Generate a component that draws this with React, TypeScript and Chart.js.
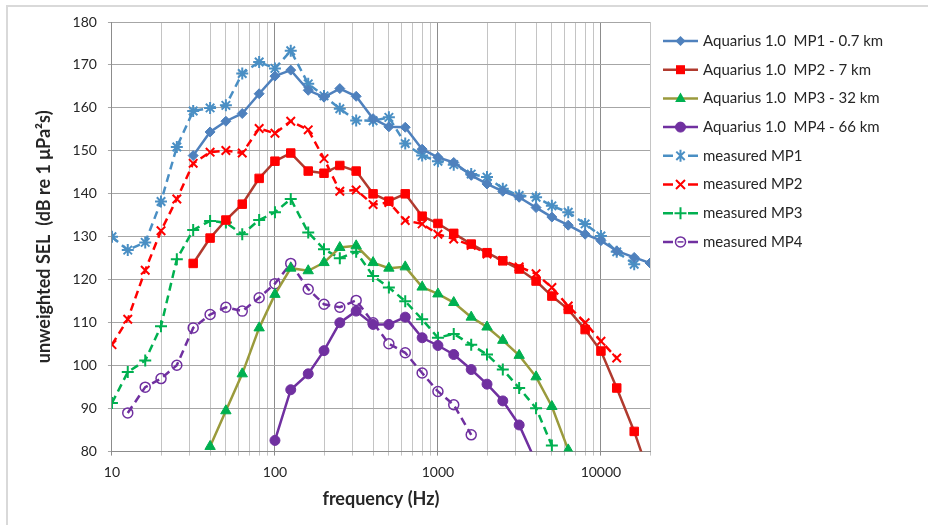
import React, { useEffect, useRef } from 'react';
import { Chart, registerables } from 'chart.js';
Chart.register(...registerables);

const freqs = [10, 12.5, 16, 20, 25, 31.5, 40, 50, 63, 80, 100, 125, 160, 200, 250, 315, 400, 500, 630, 800, 1000, 1250, 1600, 2000, 2500, 3150, 4000, 5000, 6300, 8000, 10000, 12500, 16000, 20000];

const aqMP1 = [null, null, null, null, null, 148.9, 154.4, 156.9, 158.7, 163.3, 167.4, 168.8, 164.1, 162.5, 164.5, 162.7, 157.5, 155.6, 155.5, 150.4, 148.5, 147.3, 144.3, 142.3, 140.6, 139.2, 136.8, 134.6, 132.7, 130.6, 129.1, 126.7, 125.2, 123.9];
const aqMP2 = [null, null, null, null, null, 123.8, 129.7, 133.9, 137.6, 143.6, 147.6, 149.5, 145.3, 144.8, 146.6, 145.3, 140, 138.3, 140, 134.8, 133.1, 130.8, 128.3, 126.3, 124.4, 122.5, 119.7, 116.2, 113.1, 108.4, 103.4, 94.8, 84.7, 74];
const aqMP3 = [null, null, null, null, null, null, 81.2, 89.5, 98.1, 108.8, 116.6, 122.7, 122.1, 124, 127.5, 127.9, 124, 122.7, 123, 118.3, 116.7, 114.7, 111.3, 109, 105.9, 102.4, 97.4, 90.5, 80.4, null, null, null, null, null];
const aqMP4 = [null, null, null, null, null, null, null, null, null, null, 82.6, 94.4, 98.1, 103.5, 110, 112.7, 109.6, 109.6, 111.3, 106.5, 104.7, 102.6, 99.1, 95.7, 91.8, 86.2, 77.5, null, null, null, null, null, null, null];
const msMP1 = [130, 126.9, 128.7, 138.2, 150.9, 159.3, 160, 160.6, 168, 170.7, 169.2, 173.3, 165.6, 162.8, 159.8, 157.1, 157, 157.8, 151.7, 148.9, 147.6, 146.8, 144.6, 143.9, 141.2, 139.6, 139.2, 137.2, 135.7, 133, 130.2, 126.5, 123.6, null];
const msMP2 = [104.9, 110.8, 122.2, 131.4, 138.8, 147.1, 149.7, 150.1, 149.5, 155.2, 154.1, 156.9, 154.9, 148.2, 140.6, 140.9, 137.5, 138, 133.8, 133, 130.6, 129.5, 128, 126, 124.5, 123, 121.4, 118.2, 113.9, 110, 105.7, 101.8, null, null];
const msMP3 = [91.3, 98.5, 101.2, 109.2, 124.8, 131.6, 133.7, 133.3, 130.6, 133.9, 135.7, 138.8, 131, 127.1, 125, 126.5, 120.9, 118.2, 115, 110.8, 106.5, 107.4, 104.9, 102.6, 99.1, 94.8, 90.1, 81.4, null, null, null, null, null, null];
const msMP4 = [null, 89, 95, 97, 100.1, 108.8, 111.9, 113.6, 112.7, 115.8, 119.1, 123.8, 117.8, 114.3, 113.6, 115.2, 110, 105.1, 103, 98.3, 94, 90.9, 83.9, null, null, null, null, null, null, null, null, null, null, null];

const seriesLabels = [
  'Aquarius 1.0  MP1 - 0.7 km',
  'Aquarius 1.0  MP2 - 7 km',
  'Aquarius 1.0  MP3 - 32 km',
  'Aquarius 1.0  MP4 - 66 km',
  'measured MP1',
  'measured MP2',
  'measured MP3',
  'measured MP4',
];
const xTickLabels = ['10', '100', '1000', '10000'];
const xGridValues = [10, 20, 30, 40, 50, 60, 70, 80, 90, 100, 200, 300, 400, 500, 600, 700, 800, 900, 1000, 2000, 3000, 4000, 5000, 6000, 7000, 8000, 9000, 10000, 20000];

const FONT = 'Lato, "Open Sans", sans-serif';

function toPoints(vals: (number | null)[]) {
  const out: { x: number; y: number }[] = [];
  vals.forEach((v, i) => {
    if (v !== null) out.push({ x: freqs[i], y: v });
  });
  return out;
}

type Mk = { style: string; fill: string; stroke: string; r: number; lw: number };

function drawMarker(ctx: CanvasRenderingContext2D, m: Mk, x: number, y: number) {
  const r = m.r;
  ctx.save();
  ctx.setLineDash([]);
  ctx.fillStyle = m.fill;
  ctx.strokeStyle = m.stroke;
  ctx.lineWidth = m.lw;
  ctx.beginPath();
  switch (m.style) {
    case 'rectRot':
      ctx.moveTo(x, y - r); ctx.lineTo(x + r, y); ctx.lineTo(x, y + r); ctx.lineTo(x - r, y); ctx.closePath();
      ctx.fill();
      break;
    case 'rect': {
      const s = r * 0.75;
      ctx.rect(x - s, y - s, 2 * s, 2 * s); ctx.fill();
      break;
    }
    case 'triangle':
      ctx.moveTo(x, y - r); ctx.lineTo(x + r * 0.9, y + r * 0.6); ctx.lineTo(x - r * 0.9, y + r * 0.6); ctx.closePath(); ctx.fill();
      break;
    case 'circle':
      ctx.arc(x, y, r, 0, Math.PI * 2);
      if (m.fill !== 'transparent') ctx.fill();
      ctx.stroke();
      if (m.fill === 'transparent') {
        ctx.beginPath(); ctx.moveTo(x - r * 0.6, y); ctx.lineTo(x + r * 0.6, y); ctx.stroke();
      }
      break;
    case 'star': {
      const d = r * 0.7;
      ctx.moveTo(x - d, y - d); ctx.lineTo(x + d, y + d);
      ctx.moveTo(x + d, y - d); ctx.lineTo(x - d, y + d);
      ctx.moveTo(x, y - r); ctx.lineTo(x, y + r);
      ctx.stroke();
      break;
    }
    case 'crossRot': {
      const d = r * 0.75;
      ctx.moveTo(x - d, y - d); ctx.lineTo(x + d, y + d);
      ctx.moveTo(x + d, y - d); ctx.lineTo(x - d, y + d);
      ctx.stroke();
      break;
    }
    case 'cross':
      ctx.moveTo(x - r, y); ctx.lineTo(x + r, y);
      ctx.moveTo(x, y - r); ctx.lineTo(x, y + r);
      ctx.stroke();
      break;
  }
  ctx.restore();
}

const legendPlugin = {
  id: 'sideLegend',
  afterDraw(chart: any) {
    const ctx: CanvasRenderingContext2D = chart.ctx;
    ctx.save();
    const x0 = 663, x1 = 698, top = 41, step = 28.7;
    chart.data.datasets.forEach((ds: any, i: number) => {
      const y = top + i * step;
      ctx.strokeStyle = ds.borderColor;
      ctx.lineWidth = 2.5;
      ctx.setLineDash([]);
      ctx.beginPath();
      if (ds.borderDash && ds.borderDash.length) {
        ctx.moveTo(x0, y); ctx.lineTo(x0 + 10, y);
        ctx.moveTo(x1 - 10, y); ctx.lineTo(x1, y);
      } else {
        ctx.moveTo(x0, y); ctx.lineTo(x1, y);
      }
      ctx.stroke();
      drawMarker(ctx, ds.mk, (x0 + x1) / 2, y);
      ctx.fillStyle = '#262626';
      ctx.font = '15px ' + FONT;
      ctx.textBaseline = 'middle';
      ctx.textAlign = 'left';
      ctx.fillText(seriesLabels[i], 703, y);
    });
    ctx.restore();
  },
};

function mkDataset(label: string, vals: (number | null)[], line: string, mk: Mk, dashed: boolean) {
  return {
    label,
    data: toPoints(vals),
    borderColor: line,
    backgroundColor: mk.fill,
    borderWidth: 2.5,
    borderDash: dashed ? [8, 5] : [],
    pointStyle: mk.style,
    pointRadius: mk.r,
    pointBackgroundColor: mk.fill,
    pointBorderColor: mk.stroke,
    pointBorderWidth: mk.lw,
    tension: 0,
    mk,
  } as any;
}

export default function App() {
  const ref = useRef<HTMLCanvasElement | null>(null);
  useEffect(() => {
    if (!ref.current) return;
    const blue = '#4F81BD';
    const datasets = [
      mkDataset(seriesLabels[0], aqMP1, blue, { style: 'rectRot', fill: blue, stroke: blue, r: 5, lw: 1 }, false),
      mkDataset(seriesLabels[1], aqMP2, '#B03A2E', { style: 'rect', fill: '#FF0000', stroke: '#FF0000', r: 6, lw: 1 }, false),
      mkDataset(seriesLabels[2], aqMP3, '#9A9A3C', { style: 'triangle', fill: '#00B050', stroke: '#00B050', r: 6, lw: 1 }, false),
      mkDataset(seriesLabels[3], aqMP4, '#7030A0', { style: 'circle', fill: '#7030A0', stroke: '#7030A0', r: 5, lw: 1 }, false),
      mkDataset(seriesLabels[4], msMP1, '#4A8FC4', { style: 'star', fill: '#4A8FC4', stroke: '#4A8FC4', r: 6, lw: 2 }, true),
      mkDataset(seriesLabels[5], msMP2, '#FF0000', { style: 'crossRot', fill: '#FF0000', stroke: '#FF0000', r: 6, lw: 2 }, true),
      mkDataset(seriesLabels[6], msMP3, '#00B050', { style: 'cross', fill: '#00B050', stroke: '#00B050', r: 6, lw: 2 }, true),
      mkDataset(seriesLabels[7], msMP4, '#7030A0', { style: 'circle', fill: 'transparent', stroke: '#7030A0', r: 5, lw: 1.5 }, true),
    ];
    const isMajor = (v: number) => xTickLabels.includes(String(v));
    const chart = new Chart(ref.current, {
      type: 'line',
      data: { datasets },
      plugins: [legendPlugin],
      options: {
        animation: false,
        responsive: false,
        maintainAspectRatio: false,
        layout: { padding: { left: 33, right: 278, top: 22, bottom: 15 } },
        plugins: { legend: { display: false }, tooltip: { enabled: false } },
        scales: {
          x: {
            type: 'logarithmic',
            min: 10,
            max: 20000,
            afterBuildTicks: (axis: any) => {
              axis.ticks = xGridValues.map((v) => ({ value: v, major: isMajor(v) }));
            },
            ticks: {
              autoSkip: false,
              maxRotation: 0,
              color: '#262626',
              font: { family: FONT, size: 14 },
              padding: 8,
              callback: (v: any) => (isMajor(Number(v)) ? String(v) : ''),
            },
            grid: {
              color: (c: any) => (c.tick && isMajor(c.tick.value) ? '#8c8c8c' : '#c4c4c4'),
              lineWidth: 1,
              tickLength: 4,
            },
            border: { color: '#8c8c8c' },
            title: {
              display: true,
              text: 'frequency (Hz)',
              color: '#262626',
              font: { family: FONT, size: 18, weight: 'bold' },
              padding: { top: 0, bottom: 0 },
            },
          },
          y: {
            min: 80,
            max: 180,
            ticks: { stepSize: 10, color: '#262626', font: { family: FONT, size: 14 }, padding: 11 },
            grid: { color: '#a6a6a6', lineWidth: 1, tickLength: 4 },
            border: { color: '#8c8c8c' },
            title: {
              display: true,
              text: 'unweighted SEL  (dB re 1 μPa²s)',
              color: '#262626',
              font: { family: FONT, size: 18, weight: 'bold' },
              padding: { top: 0, bottom: 7 },
            },
          },
        },
      } as any,
    });
    return () => chart.destroy();
  }, []);
  return (
    <div style={{ position: 'absolute', left: 0, top: 0, width: 928, height: 525, background: '#fff', overflow: 'hidden' }}>
      <div style={{ position: 'absolute', left: 6, top: 5, width: 940, height: 540, border: '2px solid #d9d9d9' }} />
      <canvas ref={ref} width={928} height={525} style={{ position: 'absolute', left: 0, top: 0 }} />
    </div>
  );
}
